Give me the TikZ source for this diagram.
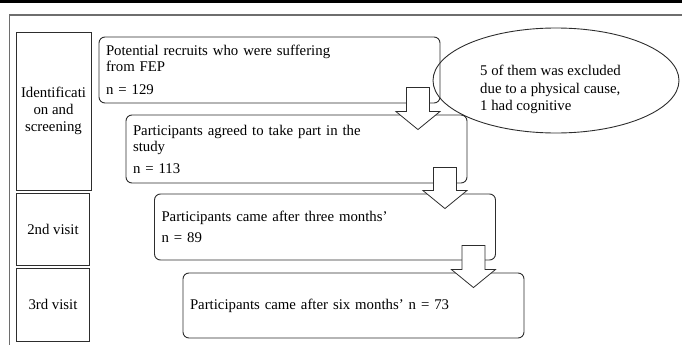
\documentclass[tikz,border=0pt]{standalone}
\usepackage{fontspec}
\setmainfont{Liberation Serif}
\usepackage{tikz}
\usetikzlibrary{calc,shapes.geometric}
\definecolor{boxline}{RGB}{45,45,45}
\definecolor{framegray}{RGB}{110,110,110}

\begin{document}
\begin{tikzpicture}[x=1pt,y=-1pt,
    flowbox/.style={draw=boxline, line width=0.9pt, rounded corners=6pt,
      text width=327, inner xsep=7pt, minimum width=341, align=left},
    sidebox/.style={draw=boxline, line width=0.9pt, align=center,
      minimum width=73},
    blockarrow/.style={draw=boxline, line width=0.8pt, fill=white}]
            \tikzstyle{every node}+=[inner sep=0pt, font=\fontsize{14.8}{16}\selectfont]
            \useasboundingbox (0,0) rectangle (682,345);
            % page rule and frame
            \fill [black] (0,0) rectangle (682,3.5);
            \draw [framegray, line width=1.4pt] (9.5,345) -- (9.5,15) -- (682,15);
            % stages on the left
            \node [sidebox, minimum width=75, minimum height=158,
              font=\fontsize{14.8}{17}\selectfont] (ident) at (53.5,111) {Identificati\\on and\\screening};
            \node [sidebox, minimum height=72] (visit2) at (53,229) {2nd visit};
            \node [sidebox, minimum height=73] (visit3) at (53,304.5) {3rd visit};
            % flow boxes
            \node [flowbox, minimum height=66] (recruits) at (269.5,70)
              {Potential recruits who were suffering\\from FEP\\[7pt]n = 129};
            \node [flowbox, minimum height=68] (agreed) at (296.5,149)
              {Participants agreed to take part in the\\study\\[6pt]n = 113};
            \node [flowbox, minimum height=66] (three) at (325,227)
              {Participants came after three months'\\[5pt]n = 89};
            \node [flowbox, minimum height=65] (six) at (353.5,305.5)
              {Participants came after six months' n = 73};
            % excluded
            \node [ellipse, draw=boxline, line width=0.9pt, minimum width=246,
              minimum height=105] (excl) at (556,80.5) {};
            \node [anchor=west, align=left, font=\fontsize{14.8}{17.5}\selectfont]
              (excltext) at ($(excl.center)+(-76,9)$)
              {5 of them was excluded\\due to a physical cause,\\1 had cognitive};
            % arrows between the boxes
            \path ($(recruits.south east)+(-22.5,-16)$) coordinate (a1) (a1 |- agreed.north) coordinate (b1);
            \draw [blockarrow] ($(a1)+(-11.5,0)$) -- ($(b1)+(-11.5,-3)$) -- ++(-10.5,0) -- ($(b1)+(0,15)$)
              -- ($(b1)+(22,-3)$) -- ++(-10.5,0) -- ($(a1)+(11.5,0)$) -- cycle;
            \path ($(agreed.south east)+(-22.5,-16)$) coordinate (a2) (a2 |- three.north) coordinate (b2);
            \draw [blockarrow] ($(a2)+(-11.5,0)$) -- ($(b2)+(-11.5,-3)$) -- ++(-10.5,0) -- ($(b2)+(0,15)$)
              -- ($(b2)+(22,-3)$) -- ++(-10.5,0) -- ($(a2)+(11.5,0)$) -- cycle;
            \path ($(three.south east)+(-22.5,-15)$) coordinate (a3) (a3 |- six.north) coordinate (b3);
            \draw [blockarrow] ($(a3)+(-11.5,0)$) -- ($(b3)+(-11.5,-3)$) -- ++(-10.5,0) -- ($(b3)+(0,15)$)
              -- ($(b3)+(22,-3)$) -- ++(-10.5,0) -- ($(a3)+(11.5,0)$) -- cycle;
          \end{tikzpicture}
\end{document}
